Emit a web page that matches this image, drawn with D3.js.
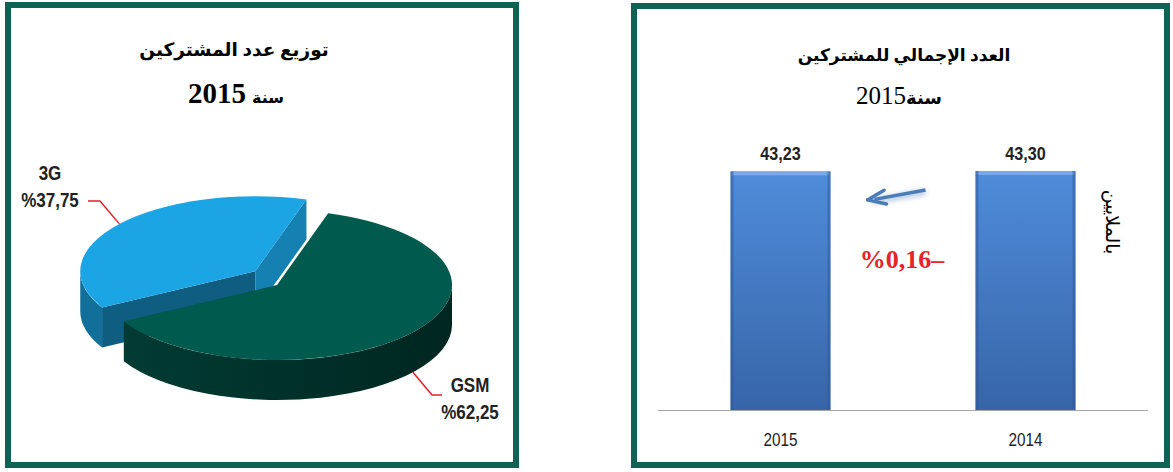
<!DOCTYPE html>
<html>
  <head>
    <meta charset="utf-8" />
    <title>Subscribers 2015</title>
    <script src="https://d3js.org/d3.v7.min.js"></script>
    <style>
      body { margin: 0; background: #fff; }
      svg { display: block; }
    </style>
  </head>

  <body>
    <svg id="viz"></svg>

    <script>
        // ---- data ----
        var pieCats = ["GSM", "3G"];
        var pieShares = [62.25, 37.75];
        var pieLabels = ["%62,25", "%37,75"];
        var pieColors = ["#015a4e", "#1ba5e4"];

        var barYears = ["2015", "2014"];
        var barValues = [43.23, 43.30];
        var barLabels = ["43,23", "43,30"];
        var changeLabel = "%0,16–";

        var width = 1173;
        var height = 472;

        var svg = d3.select("#viz")
            .attr("width", width)
            .attr("height", height);

        var defs = svg.append("defs");

        // panel frames
        var frame = "#0f6354";
        svg.append("rect")
            .attr("x", 8).attr("y", 5).attr("width", 508).attr("height", 460)
            .attr("fill", "#fff").attr("stroke", frame).attr("stroke-width", 6);
        svg.append("rect")
            .attr("x", 634).attr("y", 6).attr("width", 533).attr("height", 459)
            .attr("fill", "#fff").attr("stroke", frame).attr("stroke-width", 6);

        var arFont = "'Liberation Serif', 'DejaVu Sans', serif";
        var sans = "'Liberation Sans', Arial, sans-serif";

        // condensed sans text (no narrow font installed, so squeeze it)
        function narrowText(g, x, y, str, size, bold) {
            return g.append("text")
                .attr("transform", "translate(" + x + "," + y + ") scale(0.85,1)")
                .attr("text-anchor", "middle")
                .style("font-family", sans).style("font-size", size + "px")
                .style("font-weight", bold ? "bold" : "normal")
                .attr("fill", "#222")
                .text(str);
        }

        // ---------- left panel : 3D pie ----------
        var left = svg.append("g");

        left.append("text")
            .attr("x", 234).attr("y", 56)
            .attr("text-anchor", "middle")
            .style("font-family", arFont).style("font-size", "18.5px").style("font-weight", "bold")
            .text("توزيع عدد المشتركين");
        left.append("text")
            .attr("x", 246).attr("y", 103)
            .attr("text-anchor", "end")
            .style("font-family", arFont).style("font-size", "29px").style("font-weight", "bold")
            .text("2015");
        left.append("text")
            .attr("x", 252).attr("y", 103)
            .attr("text-anchor", "start")
            .style("font-family", arFont).style("font-size", "16px").style("font-weight", "bold")
            .text("سنة");

        var cx = 277, cy = 285, rx = 175, ry = 75, depth = 40;
        var deg = Math.PI / 180;

        var pie = d3.pie()
            .sort(null)
            .startAngle(17 * deg)
            .endAngle(17 * deg + 2 * Math.PI);

        var slices = pie(pieShares).map(function(d, i) {
            d.cat = pieCats[i];
            d.label = pieLabels[i];
            d.color = pieColors[i];
            d.explode = i === 1;
            var mid = (d.startAngle + d.endAngle) / 2;
            d.ox = d.explode ? 28 * Math.sin(mid) : 0;
            d.oy = d.explode ? -22 * Math.cos(mid) : 0;
            return d;
        });

        function rim(d, a, down) {
            return [cx + d.ox + rx * Math.sin(a), cy + d.oy - ry * Math.cos(a) + (down ? depth : 0)];
        }

        function topPath(d) {
            var p0 = rim(d, d.startAngle), p1 = rim(d, d.endAngle);
            var large = (d.endAngle - d.startAngle) > Math.PI ? 1 : 0;
            return "M" + (cx + d.ox) + "," + (cy + d.oy) +
                "L" + p0 + "A" + rx + "," + ry + " 0 " + large + " 1 " + p1 + "Z";
        }

        function rimPaths(d) {
            var out = [];
            [-1, 0, 1].forEach(function(k) {
                var lo = Math.max(d.startAngle, Math.PI / 2 + k * 2 * Math.PI);
                var hi = Math.min(d.endAngle, 3 * Math.PI / 2 + k * 2 * Math.PI);
                if (hi > lo) {
                    var t0 = rim(d, lo), t1 = rim(d, hi), b0 = rim(d, lo, true), b1 = rim(d, hi, true);
                    out.push("M" + t0 + "A" + rx + "," + ry + " 0 0 1 " + t1 +
                        "L" + b1 + "A" + rx + "," + ry + " 0 0 0 " + b0 + "Z");
                }
            });
            return out;
        }

        function facePath(d, a) {
            var c = [cx + d.ox, cy + d.oy], p = rim(d, a);
            return "M" + c + "L" + p + "L" + [p[0], p[1] + depth] + "L" + [c[0], c[1] + depth] + "Z";
        }

        var pieG = left.append("g");

        // exploded slice sits behind, draw it first
        slices.slice().reverse().forEach(function(d, i) {
            var g = pieG.append("g");
            var col = d3.color(d.color);

            // cut faces that turn toward the viewer, lit from the right
            [[d.startAngle, -1], [d.endAngle, 1]].forEach(function(e) {
                var n = e[0] + e[1] * Math.PI / 2;
                if (Math.cos(n) < 0) {
                    g.append("path")
                        .attr("d", facePath(d, e[0]))
                        .attr("fill", col.darker(2.5 - 1.9 * Math.sin(n)));
                }
            });

            var gid = "side" + i;
            var grad = defs.append("linearGradient").attr("id", gid)
                .attr("gradientUnits", "userSpaceOnUse")
                .attr("x1", cx - rx).attr("x2", cx + rx).attr("y1", 0).attr("y2", 0);
            grad.append("stop").attr("offset", "0%").attr("stop-color", col.darker(1.1));
            grad.append("stop").attr("offset", "100%").attr("stop-color", col.darker(2.4));

            rimPaths(d).forEach(function(p) {
                g.append("path").attr("d", p).attr("fill", "url(#" + gid + ")");
            });

            g.append("path")
                .attr("d", topPath(d))
                .attr("fill", d.color);
        });

        // pie labels with leader lines
        var labelPos = { "GSM": [470, 392, 1], "3G": [50, 180, -1] };
        slices.forEach(function(d) {
            var mid = (d.startAngle + d.endAngle) / 2;
            var front = Math.cos(mid) < 0;
            var a = rim(d, mid, front);
            var lp = labelPos[d.cat];
            var elbowY = front ? lp[1] + 3 : lp[1] + 21;
            var elbowX = lp[2] > 0 ? lp[0] - 38 : lp[0] + 50;
            var endX = lp[2] > 0 ? lp[0] - 28 : lp[0] + 38;
            left.append("polyline")
                .attr("points", [a, [elbowX, elbowY], [endX, elbowY]].join(" "))
                .attr("fill", "none").attr("stroke", "#e3202c").attr("stroke-width", 1.5);

            narrowText(left, lp[0], lp[1], d.cat, 20, true);
            narrowText(left, lp[0], lp[1] + 27, d.label, 20, true);
        });

        // ---------- right panel : bars ----------
        var right = svg.append("g");

        right.append("text")
            .attr("x", 904).attr("y", 61)
            .attr("text-anchor", "middle")
            .style("font-family", arFont).style("font-size", "17px").style("font-weight", "bold")
            .text("العدد الإجمالي للمشتركين");
        right.append("text")
            .attr("x", 906).attr("y", 104)
            .attr("text-anchor", "end")
            .style("font-family", arFont).style("font-size", "25px")
            .text("2015");
        right.append("text")
            .attr("x", 906).attr("y", 104)
            .attr("text-anchor", "start")
            .style("font-family", arFont).style("font-size", "18px").style("font-weight", "bold")
            .text("سنة");

        var x = d3.scaleBand()
            .domain(barYears)
            .range([658, 1148])
            .paddingInner(0.592)
            .paddingOuter(0.296);

        var y = d3.scaleLinear()
            .domain([0, 50])
            .range([410, 134]);

        var bg = defs.append("linearGradient").attr("id", "barFill")
            .attr("x1", 0).attr("x2", 0).attr("y1", 0).attr("y2", 1);
        bg.append("stop").attr("offset", "0%").attr("stop-color", "#4f8cda");
        bg.append("stop").attr("offset", "100%").attr("stop-color", "#3765a8");

        var bars = right.selectAll(".bar")
            .data(barValues)
            .enter().append("g");

        bars.append("rect")
            .attr("x", function(d, i) { return x(barYears[i]); })
            .attr("y", function(d) { return y(d); })
            .attr("width", x.bandwidth())
            .attr("height", function(d) { return y(0) - y(d); })
            .attr("fill", "url(#barFill)");

        // bevel highlights
        bars.append("rect")
            .attr("x", function(d, i) { return x(barYears[i]) + 1; })
            .attr("y", function(d) { return y(d); })
            .attr("width", x.bandwidth() - 2)
            .attr("height", 4)
            .attr("fill", "#7fb2ee").attr("opacity", 0.8);
        bars.append("rect")
            .attr("x", function(d, i) { return x(barYears[i]); })
            .attr("y", function(d) { return y(d); })
            .attr("width", 3)
            .attr("height", function(d) { return y(0) - y(d); })
            .attr("fill", "#2f5898").attr("opacity", 0.5);
        bars.append("rect")
            .attr("x", function(d, i) { return x(barYears[i]) + x.bandwidth() - 3; })
            .attr("y", function(d) { return y(d); })
            .attr("width", 3)
            .attr("height", function(d) { return y(0) - y(d); })
            .attr("fill", "#2f5898").attr("opacity", 0.5);

        barValues.forEach(function(d, i) {
            narrowText(right, x(barYears[i]) + x.bandwidth() / 2, y(d) - 11, barLabels[i], 19, true);
        });

        var xAxis = right.append("g")
            .attr("transform", "translate(0," + y(0) + ")")
            .call(d3.axisBottom(x).tickSize(0).tickPadding(23));
        xAxis.select(".domain").attr("stroke", "#a6a6a6").attr("d", "M658,0.5H1148");
        xAxis.selectAll("text")
            .attr("transform", "scale(0.85,1)")
            .style("font-family", sans).style("font-size", "18px").attr("fill", "#222");

        // unit label
        right.append("text")
            .attr("transform", "translate(1106,222) rotate(90)")
            .attr("text-anchor", "middle")
            .style("font-family", arFont).style("font-size", "19px")
            .text("بالملايين");

        // change arrow (2014 -> 2015)
        var ax0 = x(barYears[1]) - 50, ax1 = x(barYears[0]) + x.bandwidth() + 42;
        var ay0 = y(barValues[1]) + 19, ay1 = y(barValues[0]) + 28;
        var filt = defs.append("filter").attr("id", "soft").attr("x", -0.3).attr("y", -1).attr("width", 1.6).attr("height", 3);
        filt.append("feGaussianBlur").attr("stdDeviation", 2.5);
        right.append("path")
            .attr("d", "M" + ax0 + "," + (ay0 + 2) + "L" + ax1 + "," + (ay1 + 2))
            .attr("stroke", "#9cb6d8").attr("stroke-width", 6).attr("filter", "url(#soft)").attr("opacity", 0.7);
        right.append("path")
            .attr("d", "M" + ax0 + "," + ay0 + "L" + (ax1 + 2) + "," + ay1)
            .attr("stroke", "#4a7cba").attr("stroke-width", 3.5).attr("fill", "none");
        var ang = Math.atan2(ay1 - ay0, ax1 - ax0);
        var hl = 13, hw = 7;
        right.append("path")
            .attr("d", "M" + [ax1 + 3 * Math.cos(ang) - 2, ay1 + 3 * Math.sin(ang)] +
                "L" + [ax1 - hl * Math.cos(ang) - hw * Math.sin(ang), ay1 - hl * Math.sin(ang) + hw * Math.cos(ang)] +
                "M" + [ax1 + 3 * Math.cos(ang) - 2, ay1 + 3 * Math.sin(ang)] +
                "L" + [ax1 - hl * Math.cos(ang) + hw * Math.sin(ang), ay1 - hl * Math.sin(ang) - hw * Math.cos(ang)])
            .attr("stroke", "#4a7cba").attr("stroke-width", 3.5).attr("stroke-linecap", "round").attr("fill", "none");

        right.append("text")
            .attr("x", 902).attr("y", 268)
            .attr("text-anchor", "middle")
            .attr("direction", "ltr")
            .style("font-family", "'Liberation Serif', serif").style("font-size", "26px").style("font-weight", "bold")
            .style("unicode-bidi", "bidi-override")
            .attr("fill", "#e8212b")
            .text(changeLabel);
    </script>
  </body>
</html>
